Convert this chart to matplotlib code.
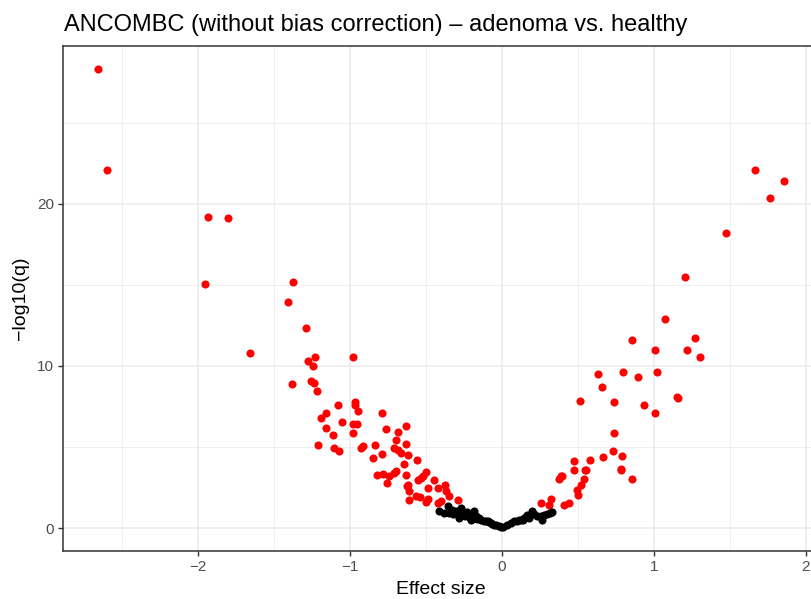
import matplotlib
matplotlib.use("Agg")
import matplotlib.pyplot as plt
from matplotlib.ticker import MultipleLocator

plt.rcParams['font.family'] = ['Liberation Sans', 'DejaVu Sans']

# Significant taxa (red)
sig_x = [-2.653, -2.594, -1.930, -1.799, -1.950, -1.655, -1.374, -1.407, -1.285, -1.226,
         -0.978, -1.272, -1.245, -1.377, -1.252, -1.236, -1.217, -1.079, -0.965, -0.963,
         -0.947, -1.156, -1.190, -0.790, -1.052, -0.978, -0.950, -1.156, -0.762, -0.630,
         -0.685, -0.976, -1.108, -1.211, -1.101, -1.072, -0.926, -0.911, -0.834, -0.696,
         -0.628, -0.707, -0.685, -0.663, -0.619, -0.849, -0.788, -0.558, -0.641, -0.821,
         -0.783, -0.740, -0.755, -0.707, -0.696, -0.628, -0.499, -0.521, -0.553, -0.444,
         -0.624, -0.609, -0.488, -0.422, -0.372, -0.368, -0.565, -0.536, -0.609, -0.488,
         -0.499, -0.422, -0.346, -0.291, -0.401, -0.532, -0.619,
         0.256, 0.311, 0.322, 0.409, 0.442, 0.376, 0.394, 0.501, 0.492, 0.519,
         0.540, 0.545, 0.475, 0.475, 0.580, 0.668, 0.731, 0.793, 0.781, 0.781,
         0.854, 0.737, 0.512, 0.740, 0.661, 0.932, 1.005, 1.154, 1.160, 1.208,
         1.072, 0.858, 1.007, 1.269, 1.215, 1.302, 0.635, 0.795, 0.895, 1.020,
         1.668, 1.854, 1.766, 1.477, 0.556, 0.387]
sig_y = [28.31, 22.09, 19.20, 19.14, 15.08, 10.77, 15.18, 13.97, 12.31, 10.58,
         10.58, 10.32, 10.01, 8.90, 9.06, 8.94, 8.43, 7.57, 7.75, 7.59,
         7.22, 7.12, 6.81, 7.08, 6.57, 6.44, 6.42, 6.14, 6.09, 6.30,
         5.91, 5.89, 5.74, 5.13, 4.92, 4.78, 4.92, 5.06, 5.13, 5.42,
         5.21, 4.92, 4.82, 4.62, 4.51, 4.35, 4.54, 4.17, 3.98, 3.26,
         3.32, 3.24, 2.75, 3.38, 3.49, 3.28, 3.45, 3.24, 2.97, 2.95,
         2.57, 2.30, 2.46, 2.46, 2.63, 2.26, 1.95, 1.91, 1.74, 1.80,
         1.60, 1.54, 1.95, 1.74, 1.64, 3.08, 2.66,
         1.54, 1.43, 1.80, 1.43, 1.54, 3.03, 3.24, 2.01, 2.36, 2.63,
         3.03, 3.59, 3.59, 4.14, 4.20, 4.37, 4.76, 4.45, 3.65, 3.57,
         3.03, 5.89, 7.86, 7.75, 8.68, 7.59, 7.10, 8.10, 8.00, 15.49,
         12.90, 11.57, 11.00, 11.75, 11.00, 10.58, 9.50, 9.62, 9.34, 9.60,
         22.09, 21.42, 20.33, 18.20, 3.57, 3.18]

# Non-significant taxa (black)
ns_x = [-0.411, -0.356, -0.346, -0.302, -0.269, -0.258, -0.280, -0.225, -0.182, -0.170,
        -0.138, -0.105, -0.072, -0.039, -0.203, -0.240, -0.320, -0.290, -0.210, -0.160,
        -0.120, -0.094, -0.050, -0.020, -0.007, 0.010, 0.037, 0.060, 0.081, 0.100,
        0.125, 0.146, 0.168, 0.201, 0.212, 0.256, 0.267, 0.300, 0.332, 0.230,
        0.280, 0.315, 0.180, 0.140, 0.110, -0.065, -0.085, -0.150, -0.190, -0.330,
        -0.380, -0.230]
ns_y = [1.06, 1.33, 0.92, 1.03, 1.23, 0.92, 0.62, 0.82, 1.03, 0.72,
        0.51, 0.41, 0.31, 0.20, 0.51, 0.75, 0.85, 0.95, 0.65, 0.55,
        0.45, 0.41, 0.20, 0.10, 0.05, 0.06, 0.20, 0.30, 0.41, 0.45,
        0.51, 0.62, 0.78, 1.06, 0.86, 0.72, 0.51, 0.86, 0.97, 0.75,
        0.80, 0.90, 0.60, 0.50, 0.48, 0.25, 0.35, 0.60, 0.70, 1.10,
        0.95, 1.00]

x_ticks = [-2, -1, 0, 1, 2]
y_ticks = [0, 10, 20]
title = "ANCOMBC (without bias correction) \u2013 adenoma vs. healthy"

W, H = 811, 599
fig = plt.figure(figsize=(W / 100, H / 100), dpi=100)
left, right, top, bottom = 63, 819, 46, 551
ax = fig.add_axes([left / W, (H - bottom) / H, (right - left) / W, (bottom - top) / H])

ax.scatter(sig_x, sig_y, s=34, color='#FF0000', linewidths=0, zorder=3)
ax.scatter(ns_x, ns_y, s=34, color='#000000', linewidths=0, zorder=3)

ax.set_xlim(-2.886, 2.086)
ax.set_ylim(-1.415, 29.73)
ax.set_xticks(x_ticks)
ax.set_xticklabels(['\u22122', '\u22121', '0', '1', '2'])
ax.set_yticks(y_ticks)
ax.xaxis.set_minor_locator(MultipleLocator(0.5))
ax.yaxis.set_minor_locator(MultipleLocator(5))

ax.grid(True, which='major', color='#EBEBEB', linewidth=1.1, zorder=0)
ax.grid(True, which='minor', color='#EBEBEB', linewidth=0.55, zorder=0)
ax.set_axisbelow(True)
for s in ax.spines.values():
    s.set_color('#333333')
    s.set_linewidth(1.1)
ax.tick_params(which='major', length=3.5, width=1.0, color='#333333',
               labelcolor='#4D4D4D', labelsize=11, pad=3)
ax.tick_params(which='minor', length=0)

ax.set_xlabel('Effect size', fontsize=14, color='black', labelpad=5)
ax.set_ylabel('\u2212log10(q)', fontsize=14, color='black', labelpad=6)
fig.text(64 / W, 1 - 25 / H, title, fontsize=17, ha='left', va='center', color='black')

fig.savefig('out.png', dpi=100)
